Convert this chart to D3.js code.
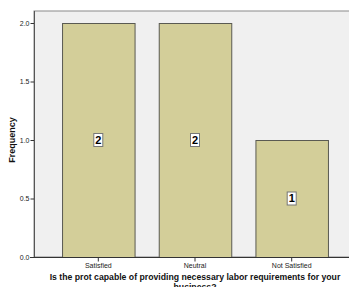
<!DOCTYPE html>
<html>
<head>
<meta charset="utf-8">
<script src="https://cdn.jsdelivr.net/npm/d3@7"></script>
<style>
  body { margin: 0; background: #fff; }
  svg { display: block; font-family: Arial, "Liberation Sans", sans-serif; }
</style>
</head>
<body>
<div id="chart"></div>
<script>
var categories = ["Satisfied", "Neutral", "Not Satisfied"];
var frequencies = [2, 2, 1];
var yTicks = [0, 0.5, 1.0, 1.5, 2.0];
var titleLines = ["Is the prot capable of providing necessary labor requirements for your", "business?"];

var width = 349, height = 287;
var plotLeft = 34, plotRight = 356, plotTop = 11, plotBottom = 257;

var svg = d3.select("#chart").append("svg")
  .attr("width", width)
  .attr("height", height);

var x = d3.scaleBand()
  .domain(categories)
  .range([plotLeft, plotRight])
  .paddingInner(0.25)
  .paddingOuter(0.29);

var y = d3.scaleLinear()
  .domain([0, 2.0])
  .range([plotBottom, 23]);

// plot background
svg.append("rect")
  .attr("x", plotLeft)
  .attr("y", plotTop)
  .attr("width", plotRight - plotLeft)
  .attr("height", plotBottom - plotTop)
  .attr("fill", "#f0f0f0")
  .attr("stroke", "#8a8a8a")
  .attr("stroke-width", 1);

// bars
svg.selectAll("rect.bar")
  .data(frequencies)
  .enter()
  .append("rect")
  .attr("class", "bar")
  .attr("x", function (d, i) { return x(categories[i]) + 0.5; })
  .attr("y", function (d) { return y(d) + 0.5; })
  .attr("width", x.bandwidth())
  .attr("height", function (d) { return y(0) - y(d); })
  .attr("fill", "#d3ce99")
  .attr("stroke", "#5a5a52")
  .attr("stroke-width", 1);

// y axis
var yAxis = d3.axisLeft(y)
  .tickValues(yTicks)
  .tickSize(4)
  .tickFormat(d3.format(".1f"));

var gy = svg.append("g")
  .attr("transform", "translate(" + (plotLeft + 0.5) + ",0)")
  .call(yAxis);
gy.select(".domain").remove();
gy.selectAll("line").attr("stroke", "#333");
gy.selectAll("text")
  .attr("font-size", 7)
  .attr("fill", "#222")
  .attr("x", -5);

svg.append("line")
  .attr("x1", plotLeft + 0.5).attr("x2", plotLeft + 0.5)
  .attr("y1", plotTop).attr("y2", plotBottom)
  .attr("stroke", "#555");

// x axis
var xAxis = d3.axisBottom(x).tickSize(4).tickSizeOuter(0);
var gx = svg.append("g")
  .attr("transform", "translate(0," + (plotBottom + 0.5) + ")")
  .call(xAxis);
gx.select(".domain").remove();
gx.selectAll("line").attr("stroke", "#333");
gx.selectAll("text")
  .attr("font-size", 7)
  .attr("fill", "#222")
  .attr("y", 6);

svg.append("line")
  .attr("x1", plotLeft - 4).attr("x2", plotRight)
  .attr("y1", plotBottom + 0.5).attr("y2", plotBottom + 0.5)
  .attr("stroke", "#333");

// value labels
var labels = svg.selectAll("g.vlabel")
  .data(frequencies)
  .enter()
  .append("g")
  .attr("class", "vlabel")
  .attr("transform", function (d, i) {
    return "translate(" + (x(categories[i]) + x.bandwidth() / 2) + "," + y(d / 2) + ")";
  });

labels.append("rect")
  .attr("x", -4.5)
  .attr("y", -6.5)
  .attr("width", 9)
  .attr("height", 13)
  .attr("fill", "#fff")
  .attr("stroke", "#777");

labels.append("text")
  .text(function (d) { return d; })
  .attr("text-anchor", "middle")
  .attr("dy", "0.36em")
  .attr("font-size", 11)
  .attr("font-weight", "bold")
  .attr("fill", "#000");

// axis titles
svg.append("text")
  .attr("transform", "translate(15," + y(1) + ") rotate(-90)")
  .attr("text-anchor", "middle")
  .attr("font-size", 9)
  .attr("font-weight", "bold")
  .attr("fill", "#111")
  .text("Frequency");

var title = svg.append("text")
  .attr("text-anchor", "middle")
  .attr("font-size", 10)
  .attr("font-weight", "bold")
  .attr("fill", "#111");
title.selectAll("tspan")
  .data(titleLines)
  .enter()
  .append("tspan")
  .attr("x", (plotLeft + plotRight) / 2)
  .attr("y", function (d, i) { return 280 + i * 10; })
  .text(function (d) { return d; });

// shrink title so the first line spans about 291px like the original
var firstLen = title.select("tspan").node().getComputedTextLength();
title.attr("font-size", 10 * 291 / firstLen);
</script>
</body>
</html>
